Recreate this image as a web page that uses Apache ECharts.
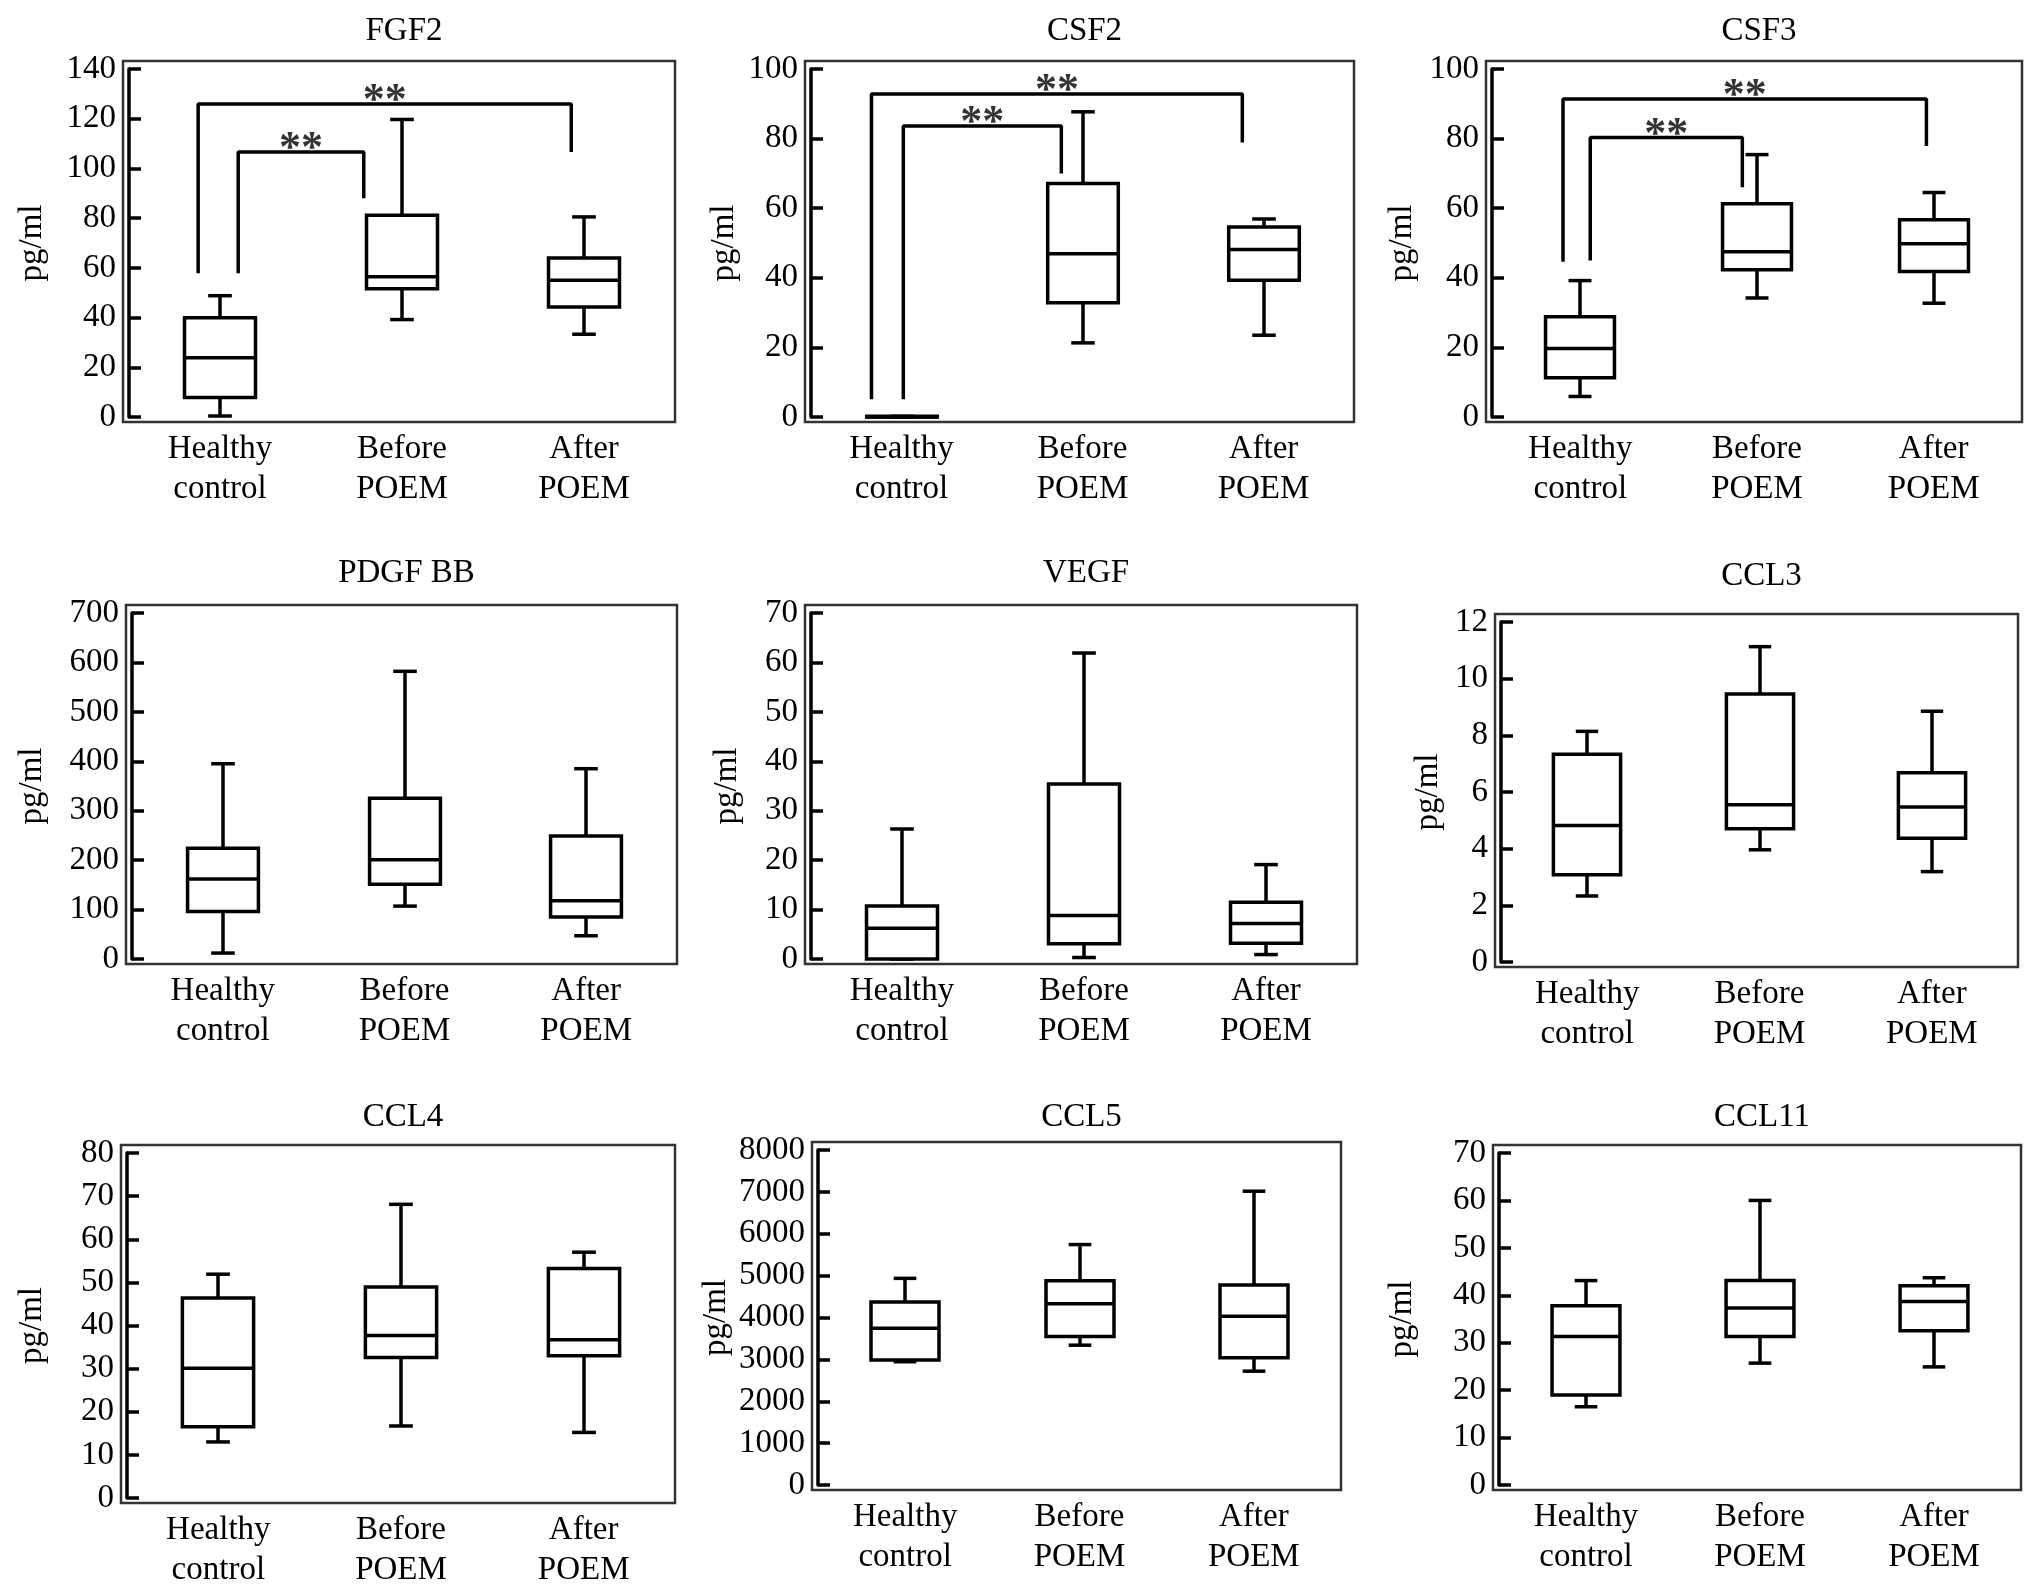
<!DOCTYPE html>
<html><head><meta charset="utf-8">
<script src="https://cdn.jsdelivr.net/npm/echarts@6/dist/echarts.min.js"></script>
<style>html,body{margin:0;padding:0;background:#fff}#c{width:2031px;height:1592px}</style>
</head><body><div id="c"></div>
<script>
// Categories
const categories = ['Healthy\ncontrol', 'Before\nPOEM', 'After\nPOEM'];
// Box values per group: [whisker low, Q1, median, Q3, whisker high]
const fgf2  = [[0.4, 7.8, 23.8, 39.9, 48.8], [39.2, 51.6, 56.4, 81.2, 119.7], [33.3, 44.3, 55.0, 64.0, 80.5]];
const csf2  = [[0, 0, 0, 0.2, 0.2], [21.3, 32.8, 46.9, 67.1, 87.7], [23.5, 39.3, 48.1, 54.6, 56.9]];
const csf3  = [[5.9, 11.3, 19.7, 28.8, 39.2], [34.2, 42.3, 47.5, 61.3, 75.4], [32.7, 41.8, 49.8, 56.7, 64.5]];
const pdgf  = [[12, 96, 162, 224, 395], [107, 151, 201, 325, 582], [47, 85, 118, 249, 385]];
const vegf  = [[0, 0, 6.2, 10.7, 26.3], [0.3, 3.1, 8.8, 35.4, 61.9], [0.9, 3.2, 7.2, 11.5, 19.1]];
const ccl3  = [[2.33, 3.08, 4.82, 7.33, 8.14], [3.96, 4.70, 5.55, 9.46, 11.13], [3.19, 4.37, 5.47, 6.68, 8.85]];
const ccl4  = [[13.0, 16.5, 30.1, 46.4, 51.9], [16.7, 32.6, 37.7, 48.9, 68.1], [15.2, 33.0, 36.7, 53.2, 57.0]];
const ccl5  = [[2944, 2984, 3742, 4370, 4935], [3339, 3548, 4331, 4879, 5742], [2718, 3040, 4032, 4774, 7016]];
const ccl11 = [[16.5, 19.0, 31.3, 37.8, 43.1], [25.7, 31.3, 37.3, 43.1, 60.0], [24.9, 32.5, 38.7, 42.0, 43.7]];

// Y axis ranges [max, interval]
const axisFGF2 = [140, 20], axisCSF2 = [100, 20], axisCSF3 = [100, 20];
const axisPDGF = [700, 100], axisVEGF = [70, 10], axisCCL3 = [12, 2];
const axisCCL4 = [80, 10], axisCCL5 = [8000, 1000], axisCCL11 = [70, 10];

// Significance brackets (category-index x, value y): [leftX, leftBottom, top, rightX, rightBottom]
const fgf2Brackets = [[-0.12, 57.8, 125.9, 1.93, 106.6], [0.10, 57.8, 106.6, 0.79, 88.0]];
const csf2Brackets = [[-0.166, 5.1, 92.8, 1.883, 78.9], [0.01, 5.1, 83.6, 0.883, 70.0]];
const csf3Brackets = [[-0.098, 44.6, 91.4, 1.959, 77.9], [0.056, 45.0, 80.3, 0.917, 66.0]];
const sigLabel = '**';

const FONT = "'Liberation Serif', 'Times New Roman', serif";

const panels = [
  {title: 'FGF2', data: fgf2, axis: axisFGF2, brackets: fgf2Brackets, frame: [123, 61, 675, 422], titleY: 10, nameGap: 80},
  {title: 'CSF2', data: csf2, axis: axisCSF2, brackets: csf2Brackets, frame: [805, 61, 1354, 422], titleY: 10, nameGap: 70},
  {title: 'CSF3', data: csf3, axis: axisCSF3, brackets: csf3Brackets, frame: [1486, 61, 2022, 422], titleY: 10, nameGap: 73},
  {title: 'PDGF BB', data: pdgf, axis: axisPDGF, brackets: [], frame: [126, 605, 677, 964], titleY: 552, nameGap: 83},
  {title: 'VEGF', data: vegf, axis: axisVEGF, brackets: [], frame: [805, 605, 1357, 964], titleY: 552, nameGap: 67},
  {title: 'CCL3', data: ccl3, axis: axisCCL3, brackets: [], frame: [1495, 614, 2018, 967], titleY: 555, nameGap: 56},
  {title: 'CCL4', data: ccl4, axis: axisCCL4, brackets: [], frame: [121, 1145, 675, 1503], titleY: 1096, nameGap: 78},
  {title: 'CCL5', data: ccl5, axis: axisCCL5, brackets: [], frame: [812, 1142, 1341, 1490], titleY: 1096, nameGap: 85},
  {title: 'CCL11', data: ccl11, axis: axisCCL11, brackets: [], frame: [1493, 1145, 2021, 1490], titleY: 1096, nameGap: 80}
];

const W = 2031, H = 1592;
const INSET_L = 6, INSET_T = 8, INSET_B = 5;
const LW = 3.5;

function renderBox(params, api) {
  const x = api.value(0);
  const lo = api.coord([x, api.value(1)]);
  const q1 = api.coord([x, api.value(2)]);
  const md = api.coord([x, api.value(3)]);
  const q3 = api.coord([x, api.value(4)]);
  const hi = api.coord([x, api.value(5)]);
  const band = api.size([1, 0])[0];
  const bh = band * 0.195, ch = band * 0.065;
  const cx = Math.round(lo[0]);
  const st = {stroke: '#000', lineWidth: LW, fill: null};
  return {type: 'group', children: [
    {type: 'line', shape: {x1: cx, y1: hi[1], x2: cx, y2: q3[1]}, style: st},
    {type: 'line', shape: {x1: cx, y1: q1[1], x2: cx, y2: lo[1]}, style: st},
    {type: 'line', shape: {x1: cx - ch, y1: hi[1], x2: cx + ch, y2: hi[1]}, style: st},
    {type: 'line', shape: {x1: cx - ch, y1: lo[1], x2: cx + ch, y2: lo[1]}, style: st},
    {type: 'rect', shape: {x: cx - bh, y: q3[1], width: 2 * bh, height: q1[1] - q3[1]}, style: {stroke: '#000', lineWidth: LW, fill: '#fff'}},
    {type: 'line', shape: {x1: cx - bh, y1: md[1], x2: cx + bh, y2: md[1]}, style: st}
  ]};
}

const option = {
  backgroundColor: '#fff',
  animation: false,
  title: [], grid: [], xAxis: [], yAxis: [], series: [], graphic: []
};

panels.forEach((p, i) => {
  const [L, T, R, B] = p.frame;
  option.title.push({
    text: p.title, left: (L + R) / 2, top: p.titleY, textAlign: 'center',
    textStyle: {fontFamily: FONT, fontSize: 33, fontWeight: 'normal', color: '#000'}
  });
  option.grid.push({
    left: L + INSET_L, right: W - R, top: T + INSET_T, bottom: H - B + INSET_B,
    containLabel: false, outerBoundsMode: 'none'
  });
  option.graphic.push({
    type: 'rect', shape: {x: L, y: T, width: R - L, height: B - T},
    style: {stroke: '#333', lineWidth: 2.5, fill: null}, silent: true, z: 0
  });
  // category axis for boxes
  option.xAxis.push({
    type: 'category', gridIndex: i, data: categories,
    axisLine: {show: false}, axisTick: {show: false}, splitLine: {show: false},
    axisLabel: {fontFamily: FONT, fontSize: 33, color: '#000', lineHeight: 40, margin: 12, interval: 0}
  });
  // value axis aligned with categories, for brackets
  option.xAxis.push({type: 'value', gridIndex: i, min: -0.5, max: 2.5, show: false,
    axisLine: {onZero: false}});
  option.yAxis.push({
    type: 'value', gridIndex: i, min: 0, max: p.axis[0], interval: p.axis[1],
    name: 'pg/ml', nameLocation: 'middle', nameGap: p.nameGap,
    nameTextStyle: {fontFamily: FONT, fontSize: 33, color: '#000'},
    axisLine: {show: true, onZero: false, lineStyle: {color: '#000', width: LW}},
    axisTick: {show: true, inside: true, length: 12, lineStyle: {color: '#000', width: LW}},
    axisLabel: {fontFamily: FONT, fontSize: 33, color: '#000', margin: 13, formatter: v => String(v)},
    splitLine: {show: false}
  });
  option.series.push({
    type: 'custom', xAxisIndex: 2 * i, yAxisIndex: i,
    renderItem: renderBox, encode: {x: 0, y: [1, 2, 3, 4, 5]},
    data: p.data.map((d, k) => [k].concat(d)), z: 3
  });
  p.brackets.forEach(b => {
    option.series.push({
      type: 'line', xAxisIndex: 2 * i + 1, yAxisIndex: i, symbol: 'none', z: 4,
      lineStyle: {color: '#000', width: LW}, silent: true,
      data: [[b[0], b[1]], [b[0], b[2]], [b[3], b[2]], [b[3], b[4]]]
    });
    option.series.push({
      type: 'scatter', xAxisIndex: 2 * i + 1, yAxisIndex: i, symbolSize: 1, z: 5,
      itemStyle: {color: 'rgba(0,0,0,0)'}, silent: true,
      label: {show: true, position: 'inside', offset: [0, -2], formatter: sigLabel,
        fontFamily: FONT, fontSize: 44, fontWeight: 'bold', color: '#000'},
      data: [[(b[0] + b[3]) / 2, b[2]]]
    });
  });
});

const chart = echarts.init(document.getElementById('c'), null, {renderer: 'canvas', width: W, height: H});
chart.setOption(option);
</script>
</body></html>
